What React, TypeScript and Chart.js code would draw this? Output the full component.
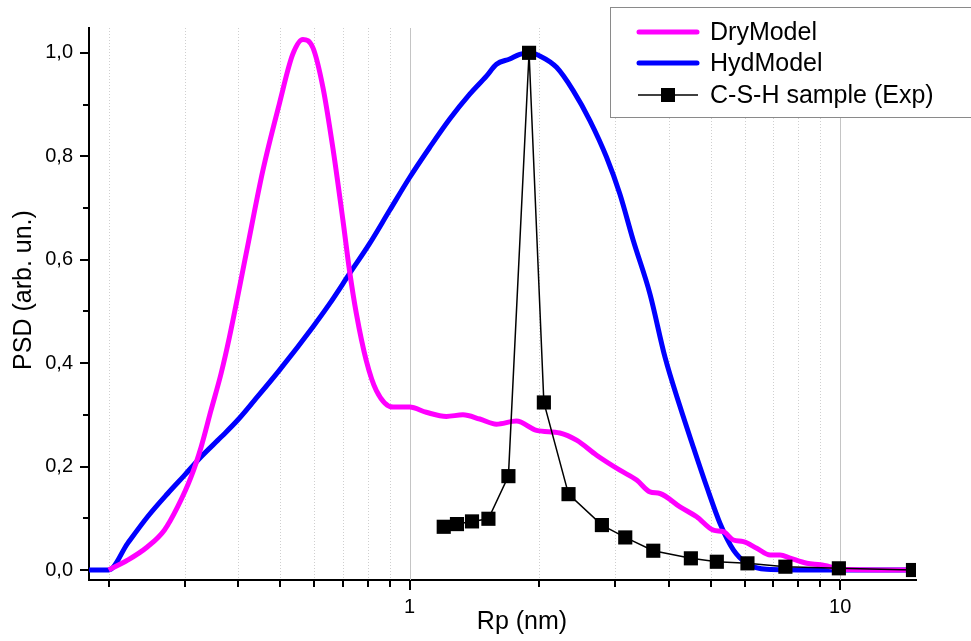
import React, { useEffect, useRef } from 'react';
import { Chart, registerables } from 'chart.js';

Chart.register(...registerables);

// ---- data ----
const xTickValues = [0.2, 0.3, 0.4, 0.5, 0.6, 0.7, 0.8, 0.9, 1, 2, 3, 4, 5, 6, 7, 8, 9, 10];
const xTickLabels = ['1', '10'];
const yTickValues = [0, 0.1, 0.2, 0.3, 0.4, 0.5, 0.6, 0.7, 0.8, 0.9, 1.0];
const yTickLabels = ['0,0', '0,2', '0,4', '0,6', '0,8', '1,0'];

const seriesNames = ['DryModel', 'HydModel', 'C-S-H sample (Exp)'];

const dryX = [0.2, 0.2213, 0.2462, 0.2693, 0.2891, 0.3107, 0.3279, 0.3457, 0.3648, 0.3814, 0.417, 0.456, 0.498, 0.535, 0.565, 0.596, 0.629, 0.663, 0.7, 0.725, 0.752, 0.793, 0.837, 0.915, 1.0, 1.093, 1.217, 1.33, 1.455, 1.591, 1.77, 1.971, 2.233, 2.442, 2.718, 3.078, 3.367, 3.615, 3.814, 4.246, 4.642, 5.074, 5.354, 5.648, 5.959, 6.402, 6.875, 7.254, 7.651, 8.366, 8.985, 10.36, 15];
const dryY = [0, 0.019, 0.045, 0.077, 0.122, 0.18, 0.238, 0.309, 0.38, 0.45, 0.611, 0.772, 0.901, 0.997, 1.026, 1.01, 0.933, 0.817, 0.676, 0.579, 0.496, 0.405, 0.347, 0.315, 0.315, 0.305, 0.297, 0.3, 0.292, 0.282, 0.288, 0.27, 0.265, 0.251, 0.222, 0.193, 0.174, 0.151, 0.148, 0.122, 0.103, 0.077, 0.074, 0.058, 0.055, 0.042, 0.029, 0.029, 0.023, 0.013, 0.01, 0.001, 0];

const hydX = [0.18, 0.2, 0.2213, 0.2462, 0.2742, 0.2998, 0.3279, 0.3648, 0.3988, 0.436, 0.498, 0.596, 0.652, 0.725, 0.807, 0.898, 1.0, 1.113, 1.239, 1.379, 1.508, 1.591, 1.708, 1.802, 1.901, 2.006, 2.194, 2.398, 2.622, 2.867, 3.078, 3.307, 3.615, 3.917, 4.246, 4.558, 4.898, 5.26, 5.648, 6.067, 6.752, 8.65, 15];
const hydY = [0, 0, 0.0515, 0.103, 0.148, 0.183, 0.219, 0.257, 0.29, 0.328, 0.386, 0.47, 0.515, 0.573, 0.631, 0.695, 0.759, 0.817, 0.872, 0.92, 0.955, 0.978, 0.988, 0.997, 1.0, 0.994, 0.972, 0.927, 0.869, 0.798, 0.727, 0.637, 0.534, 0.412, 0.316, 0.238, 0.161, 0.09, 0.039, 0.013, 0.0013, 0, 0];

const expX = [1.2, 1.288, 1.396, 1.524, 1.696, 1.894, 2.05, 2.339, 2.796, 3.168, 3.68, 4.5, 5.17, 6.09, 7.46, 9.93, 14.76];
const expY = [0.0836, 0.0888, 0.094, 0.0991, 0.1815, 1.0, 0.324, 0.1467, 0.0869, 0.063, 0.0373, 0.0226, 0.016, 0.0129, 0.0064, 0.0033, 0.0];

const colors = ['#ff00ff', '#0000ff', '#000000'];

const FONT = "'Liberation Sans', Arial, Helvetica, sans-serif";

const toPoints = (xs: number[], ys: number[]) => xs.map((x, i) => ({ x, y: ys[i] }));

const decorPlugin = {
  id: 'decor',
  beforeDatasetsDraw(chart: any) {
    const { ctx, chartArea: a, scales } = chart;
    const x = scales.x;
    ctx.save();
    ctx.lineWidth = 1;
    xTickValues.forEach((v) => {
      const px = Math.round(x.getPixelForValue(v)) + 0.5;
      const major = v === 1 || v === 10;
      ctx.strokeStyle = major ? '#c4c4c4' : '#cfcfcf';
      ctx.setLineDash(major ? [] : [1, 2]);
      ctx.beginPath();
      ctx.moveTo(px, a.top);
      ctx.lineTo(px, a.bottom);
      ctx.stroke();
    });
    ctx.restore();
  },
  afterDraw(chart: any) {
    const { ctx, chartArea: a, scales } = chart;
    const x = scales.x;
    const y = scales.y;
    ctx.save();
    // tick marks
    ctx.strokeStyle = '#000';
    ctx.lineWidth = 2;
    ctx.setLineDash([]);
    xTickValues.forEach((v) => {
      const px = Math.round(x.getPixelForValue(v));
      const major = v === 1 || v === 10;
      ctx.beginPath();
      ctx.moveTo(px, a.bottom);
      ctx.lineTo(px, a.bottom + (major ? 10 : 7));
      ctx.stroke();
    });
    yTickValues.forEach((v, i) => {
      const py = Math.round(y.getPixelForValue(v));
      const major = i % 2 === 0;
      ctx.beginPath();
      ctx.moveTo(a.left, py);
      ctx.lineTo(a.left - (major ? 9 : 6), py);
      ctx.stroke();
    });

    // axis titles
    ctx.fillStyle = '#000';
    ctx.font = `25px ${FONT}`;
    ctx.textAlign = 'center';
    ctx.textBaseline = 'middle';
    ctx.fillText('Rp (nm)', 522, 622);
    ctx.save();
    ctx.translate(24, 290);
    ctx.rotate(-Math.PI / 2);
    ctx.fillText('PSD (arb. un.)', 0, 0);
    ctx.restore();

    // legend
    const lx = 610.5, ly = 7.5, lw = 420, lh = 110;
    ctx.fillStyle = '#fff';
    ctx.fillRect(lx, ly, lw, lh);
    ctx.strokeStyle = '#8a8a8a';
    ctx.lineWidth = 1;
    ctx.strokeRect(lx, ly, lw, lh);
    const rows = [32, 63, 95];
    ctx.font = `25px ${FONT}`;
    ctx.textAlign = 'left';
    ctx.textBaseline = 'middle';
    seriesNames.forEach((name, i) => {
      const ry = rows[i];
      ctx.strokeStyle = colors[i];
      if (i < 2) {
        ctx.lineWidth = 5;
        ctx.lineCap = 'round';
        ctx.beginPath();
        ctx.moveTo(639, ry);
        ctx.lineTo(697, ry);
        ctx.stroke();
      } else {
        ctx.lineWidth = 1.5;
        ctx.lineCap = 'butt';
        ctx.beginPath();
        ctx.moveTo(638, ry);
        ctx.lineTo(698, ry);
        ctx.stroke();
        ctx.fillStyle = '#000';
        ctx.fillRect(661, ry - 7, 14, 14);
      }
      ctx.fillStyle = '#000';
      ctx.fillText(name, 710, ry + 1);
    });
    ctx.restore();
  },
};

export default function App() {
  const ref = useRef<HTMLCanvasElement | null>(null);

  useEffect(() => {
    if (!ref.current) return;
    const chart = new Chart(ref.current, {
      type: 'line',
      data: {
        datasets: [
          {
            label: seriesNames[2],
            data: toPoints(expX, expY),
            borderColor: colors[2],
            backgroundColor: colors[2],
            borderWidth: 1.5,
            pointStyle: 'rect',
            pointRadius: 10,
            pointBorderWidth: 0,
            pointBackgroundColor: '#000',
            tension: 0,
            order: 0,
          },
          {
            label: seriesNames[0],
            data: toPoints(dryX, dryY),
            borderColor: colors[0],
            borderWidth: 5,
            pointRadius: 0,
            cubicInterpolationMode: 'monotone',
            order: 1,
          },
          {
            label: seriesNames[1],
            data: toPoints(hydX, hydY),
            borderColor: colors[1],
            borderWidth: 5,
            pointRadius: 0,
            cubicInterpolationMode: 'monotone',
            order: 2,
          },
        ],
      },
      options: {
        animation: false,
        responsive: false,
        devicePixelRatio: 1,
        events: [],
        layout: { padding: { left: 0, top: 27, right: 55, bottom: 0 } },
        plugins: { legend: { display: false }, tooltip: { enabled: false } },
        scales: {
          x: {
            type: 'logarithmic',
            min: 0.18,
            max: 15,
            afterBuildTicks: (scale: any) => {
              scale.ticks = xTickValues.map((v) => ({ value: v }));
            },
            afterFit: (scale: any) => {
              scale.height = 61;
            },
            grid: { display: true, drawOnChartArea: false, drawTicks: false },
            border: { display: true, color: '#000', width: 2 },
            ticks: {
              autoSkip: false,
              maxRotation: 0,
              padding: 15,
              color: '#000',
              font: { family: FONT, size: 20 },
              callback: (v: any) => {
                const n = Number(v);
                if (Math.abs(n - 1) < 1e-9) return xTickLabels[0];
                if (Math.abs(n - 10) < 1e-9) return xTickLabels[1];
                return '';
              },
            },
          },
          y: {
            type: 'linear',
            min: -0.0193,
            max: 1.048,
            afterBuildTicks: (scale: any) => {
              scale.ticks = yTickValues.map((v) => ({ value: v }));
            },
            afterFit: (scale: any) => {
              scale.width = 89;
            },
            grid: { display: true, drawOnChartArea: false, drawTicks: false },
            border: { display: true, color: '#000', width: 2 },
            ticks: {
              autoSkip: false,
              padding: 16,
              color: '#000',
              font: { family: FONT, size: 20 },
              callback: (_v: any, i: number) => (i % 2 === 0 ? yTickLabels[i / 2] : ''),
            },
          },
        },
      },
      plugins: [decorPlugin],
    } as any);
    return () => chart.destroy();
  }, []);

  return (
    <div style={{ position: 'fixed', left: 0, top: 0, width: 971, height: 641, background: '#fff' }}>
      <canvas ref={ref} width={971} height={641} style={{ display: 'block', width: 971, height: 641 }} />
    </div>
  );
}
